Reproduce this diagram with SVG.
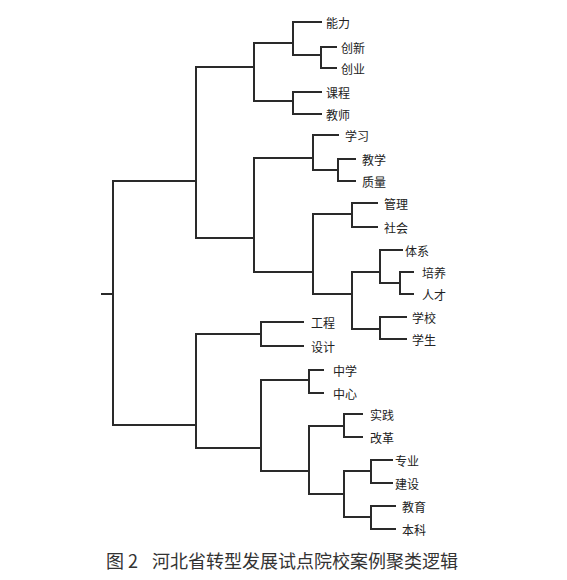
<svg xmlns="http://www.w3.org/2000/svg" width="567" height="580" viewBox="0 0 567 580">
<style>
.c path{fill:none;stroke:#2a2a2a;stroke-width:2;stroke-linecap:square}
.n text{font-family:"Noto Sans CJK SC","Noto Sans",sans-serif;font-size:12px;fill:#222;dominant-baseline:central}
.cap{font-family:"Noto Sans CJK SC","Noto Sans",sans-serif;font-size:18px;fill:#333}
</style>
<rect width="567" height="580" fill="#fff"/>
<g id="connectors" class="c">
<path d="M293,22H321M321,47H336M321,68H336M321,47V68M293,55H321M293,22V55M254,43H293"/>
<path d="M293,92H321M293,114H321M293,92V114M254,101H293M254,43V101M196,67H254"/>
<path d="M313,135H338M338,159H355M338,181H355M338,159V181M313,170H338M313,135V170M254,158H313"/>
<path d="M352,203H377M352,227H377M352,203V227M313,214H352"/>
<path d="M380,250H402M400,272H413M400,294H413M400,272V294M380,283H400M380,250V283M352,272H380"/>
<path d="M380,317H406M380,339H406M380,317V339M352,329H380M352,272V329M313,294H352M313,214V294M254,272H313M254,158V272M196,238H254M196,67V238M113,181H196"/>
<path d="M261,322H303M261,346H303M261,322V346M196,334H261"/>
<path d="M309,370H323M309,393H323M309,370V393M261,380H309"/>
<path d="M344,414H362M344,437H362M344,414V437M309,426H344"/>
<path d="M371,460H392M371,483H392M371,460V483M344,471H371"/>
<path d="M371,506H395M371,529H395M371,506V529M344,517H371M344,471V517M309,494H344M309,426V494M261,471H309M261,380V471M196,448H261M196,334V448M113,425H196M113,181V425M102,294H113"/>
</g>
<g id="n-nengli" class="n"><text x="326" y="22">能力</text></g>
<g id="n-chuangxin" class="n"><text x="341" y="47">创新</text></g>
<g id="n-chuangye" class="n"><text x="341" y="68">创业</text></g>
<g id="n-kecheng" class="n"><text x="326" y="92">课程</text></g>
<g id="n-jiaoshi" class="n"><text x="326" y="114">教师</text></g>
<g id="n-xuexi" class="n"><text x="345" y="135">学习</text></g>
<g id="n-jiaoxue" class="n"><text x="362" y="159">教学</text></g>
<g id="n-zhiliang" class="n"><text x="362" y="181">质量</text></g>
<g id="n-guanli" class="n"><text x="384" y="203">管理</text></g>
<g id="n-shehui" class="n"><text x="384" y="227">社会</text></g>
<g id="n-tixi" class="n"><text x="405" y="250">体系</text></g>
<g id="n-peiyang" class="n"><text x="422" y="272">培养</text></g>
<g id="n-rencai" class="n"><text x="422" y="294">人才</text></g>
<g id="n-xuexiao" class="n"><text x="412" y="317">学校</text></g>
<g id="n-xuesheng" class="n"><text x="412" y="339">学生</text></g>
<g id="n-gongcheng" class="n"><text x="311" y="322">工程</text></g>
<g id="n-sheji" class="n"><text x="311" y="346">设计</text></g>
<g id="n-zhongxue" class="n"><text x="333" y="370">中学</text></g>
<g id="n-zhongxin" class="n"><text x="333" y="393">中心</text></g>
<g id="n-shijian" class="n"><text x="370" y="414">实践</text></g>
<g id="n-gaige" class="n"><text x="370" y="437">改革</text></g>
<g id="n-zhuanye" class="n"><text x="395" y="460">专业</text></g>
<g id="n-jianshe" class="n"><text x="395" y="483">建设</text></g>
<g id="n-jiaoyu" class="n"><text x="402" y="506">教育</text></g>
<g id="n-benke" class="n"><text x="402" y="529">本科</text></g>
<g id="caption">
<text class="cap" x="106" y="568">图 2</text>
<text class="cap" x="152" y="568">河北省转型发展试点院校案例聚类逻辑</text>
</g>
</svg>
